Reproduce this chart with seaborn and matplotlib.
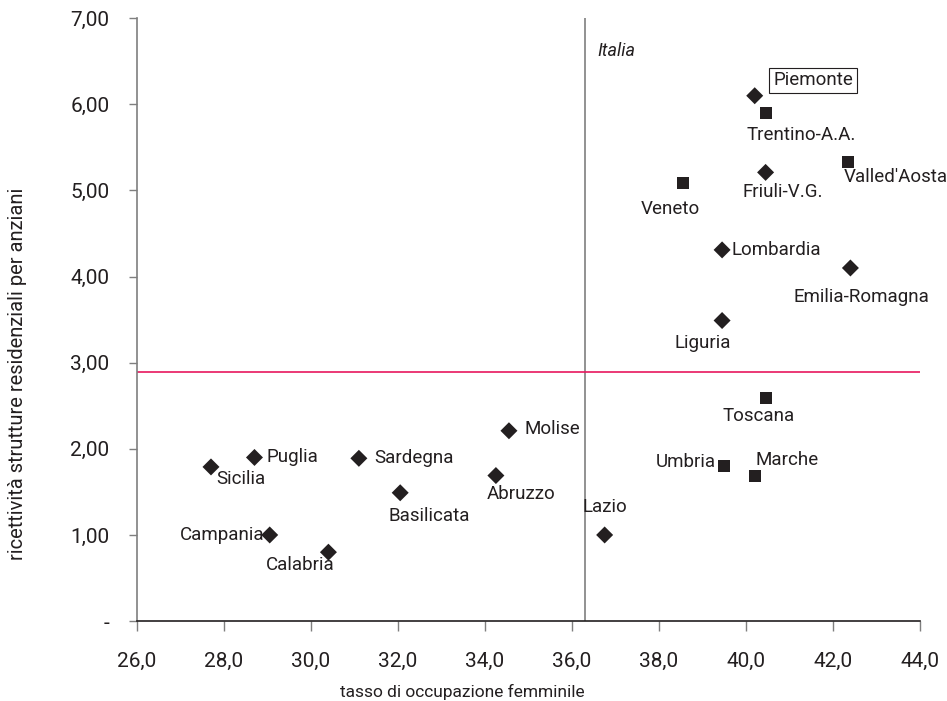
import pandas as pd
import matplotlib.pyplot as plt
import seaborn as sns
from matplotlib.ticker import FuncFormatter

# data
regioni = ['Piemonte', 'Trentino-A.A.', "Valled'Aosta", 'Friuli-V.G.', 'Veneto',
           'Lombardia', 'Emilia-Romagna', 'Liguria', 'Toscana', 'Umbria',
           'Marche', 'Lazio', 'Molise', 'Abruzzo', 'Basilicata', 'Sardegna',
           'Puglia', 'Sicilia', 'Campania', 'Calabria']
occupazione = [40.2, 40.45, 42.35, 40.45, 38.55,
               39.45, 42.4, 39.45, 40.45, 39.5,
               40.2, 36.75, 34.55, 34.25, 32.05, 31.1,
               28.7, 27.7, 29.05, 30.4]
ricettivita = [6.10, 5.90, 5.33, 5.21, 5.09,
               4.31, 4.10, 3.49, 2.59, 1.80,
               1.69, 1.00, 2.21, 1.69, 1.49, 1.89,
               1.90, 1.79, 1.00, 0.80]
forma = ['a', 'b', 'b', 'a', 'b',
         'a', 'a', 'a', 'b', 'b',
         'b', 'a', 'a', 'a', 'a', 'a',
         'a', 'a', 'a', 'a']
italia_x = 36.3
italia_y = 2.89

df = pd.DataFrame({'regione': regioni, 'x': occupazione, 'y': ricettivita, 'forma': forma})

# label placement (offset in points, alignment)
label_pos = {
    'Piemonte': (42, 11, 'center'),
    'Trentino-A.A.': (26, -16, 'center'),
    "Valled'Aosta": (-3, -11, 'left'),
    'Friuli-V.G.': (12, -14, 'center'),
    'Veneto': (-9, -19, 'center'),
    'Lombardia': (7, 0, 'left'),
    'Emilia-Romagna': (8, -21, 'center'),
    'Liguria': (-14, -16, 'center'),
    'Toscana': (-5, -13, 'center'),
    'Umbria': (-6, 3, 'right'),
    'Marche': (23, 11, 'center'),
    'Lazio': (0, 20, 'center'),
    'Molise': (11, 1, 'left'),
    'Abruzzo': (18, -13, 'center'),
    'Basilicata': (21, -17, 'center'),
    'Sardegna': (11, 0, 'left'),
    'Puglia': (9, 0, 'left'),
    'Sicilia': (4, -9, 'left'),
    'Campania': (-4, 0, 'right'),
    'Calabria': (-20, -9, 'center'),
}

sns.set_style('white')
plt.rcParams['font.family'] = ['Roboto', 'DejaVu Sans']
txt = '#231f20'

fig = plt.figure(figsize=(9.47, 7.01), dpi=100)
ax = fig.add_axes([0.1447, 0.114, 0.8268, 0.86])

sns.scatterplot(data=df, x='x', y='y', style='forma', markers={'a': 'D', 'b': 's'},
                size='forma', sizes={'a': 75, 'b': 75}, color=txt, edgecolor=txt,
                linewidth=0, legend=False, ax=ax, zorder=3)

ax.axvline(italia_x, color='#7f7f7f', lw=1.2, zorder=1)
ax.axhline(italia_y, color='#e8175d', lw=1.2, zorder=1)
ax.annotate('Italia', (italia_x, 6.62), xytext=(9, 0), textcoords='offset points',
            fontsize=13, style='italic', color=txt, va='center')

for _, r in df.iterrows():
    dx, dy, ha = label_pos[r['regione']]
    kw = {}
    if r['regione'] == 'Piemonte':
        kw['bbox'] = dict(boxstyle='square,pad=0.2', fc='white', ec=txt, lw=0.8)
    ax.annotate(r['regione'], (r['x'], r['y']), xytext=(dx, dy), textcoords='offset points',
                ha=ha, va='center', fontsize=13.5, color=txt, zorder=4, **kw)

ax.set_xlim(26, 44)
ax.set_ylim(0, 7)
ax.set_xticks(range(26, 45, 2))
ax.set_yticks(range(0, 8))
ax.xaxis.set_major_formatter(FuncFormatter(lambda v, p: f'{v:.1f}'.replace('.', ',')))
ax.yaxis.set_major_formatter(FuncFormatter(lambda v, p: '-' if v == 0 else f'{v:.2f}'.replace('.', ',')))

for s in ['top', 'right']:
    ax.spines[s].set_visible(False)
ax.spines['left'].set_color('#7f7f7f')
ax.spines['bottom'].set_color(txt)
ax.spines['left'].set_linewidth(1.2)
ax.spines['bottom'].set_linewidth(1.2)
ax.tick_params(axis='x', direction='out', length=7, width=1, color='#7f7f7f',
               labelsize=15, labelcolor=txt, pad=15, bottom=True)
ax.tick_params(axis='y', direction='out', length=6, width=1, color='#7f7f7f',
               labelsize=15, labelcolor=txt, pad=14, left=True)

ax.set_xlabel('tasso di occupazione femminile', fontsize=12.5, color=txt)
ax.set_ylabel('ricettività strutture residenziali per anziani', fontsize=14.5, color=txt)
ax.xaxis.set_label_coords(0.415, -0.105)
ax.yaxis.set_label_coords(-0.14, 0.41)

fig.savefig('out.png', dpi=100)
